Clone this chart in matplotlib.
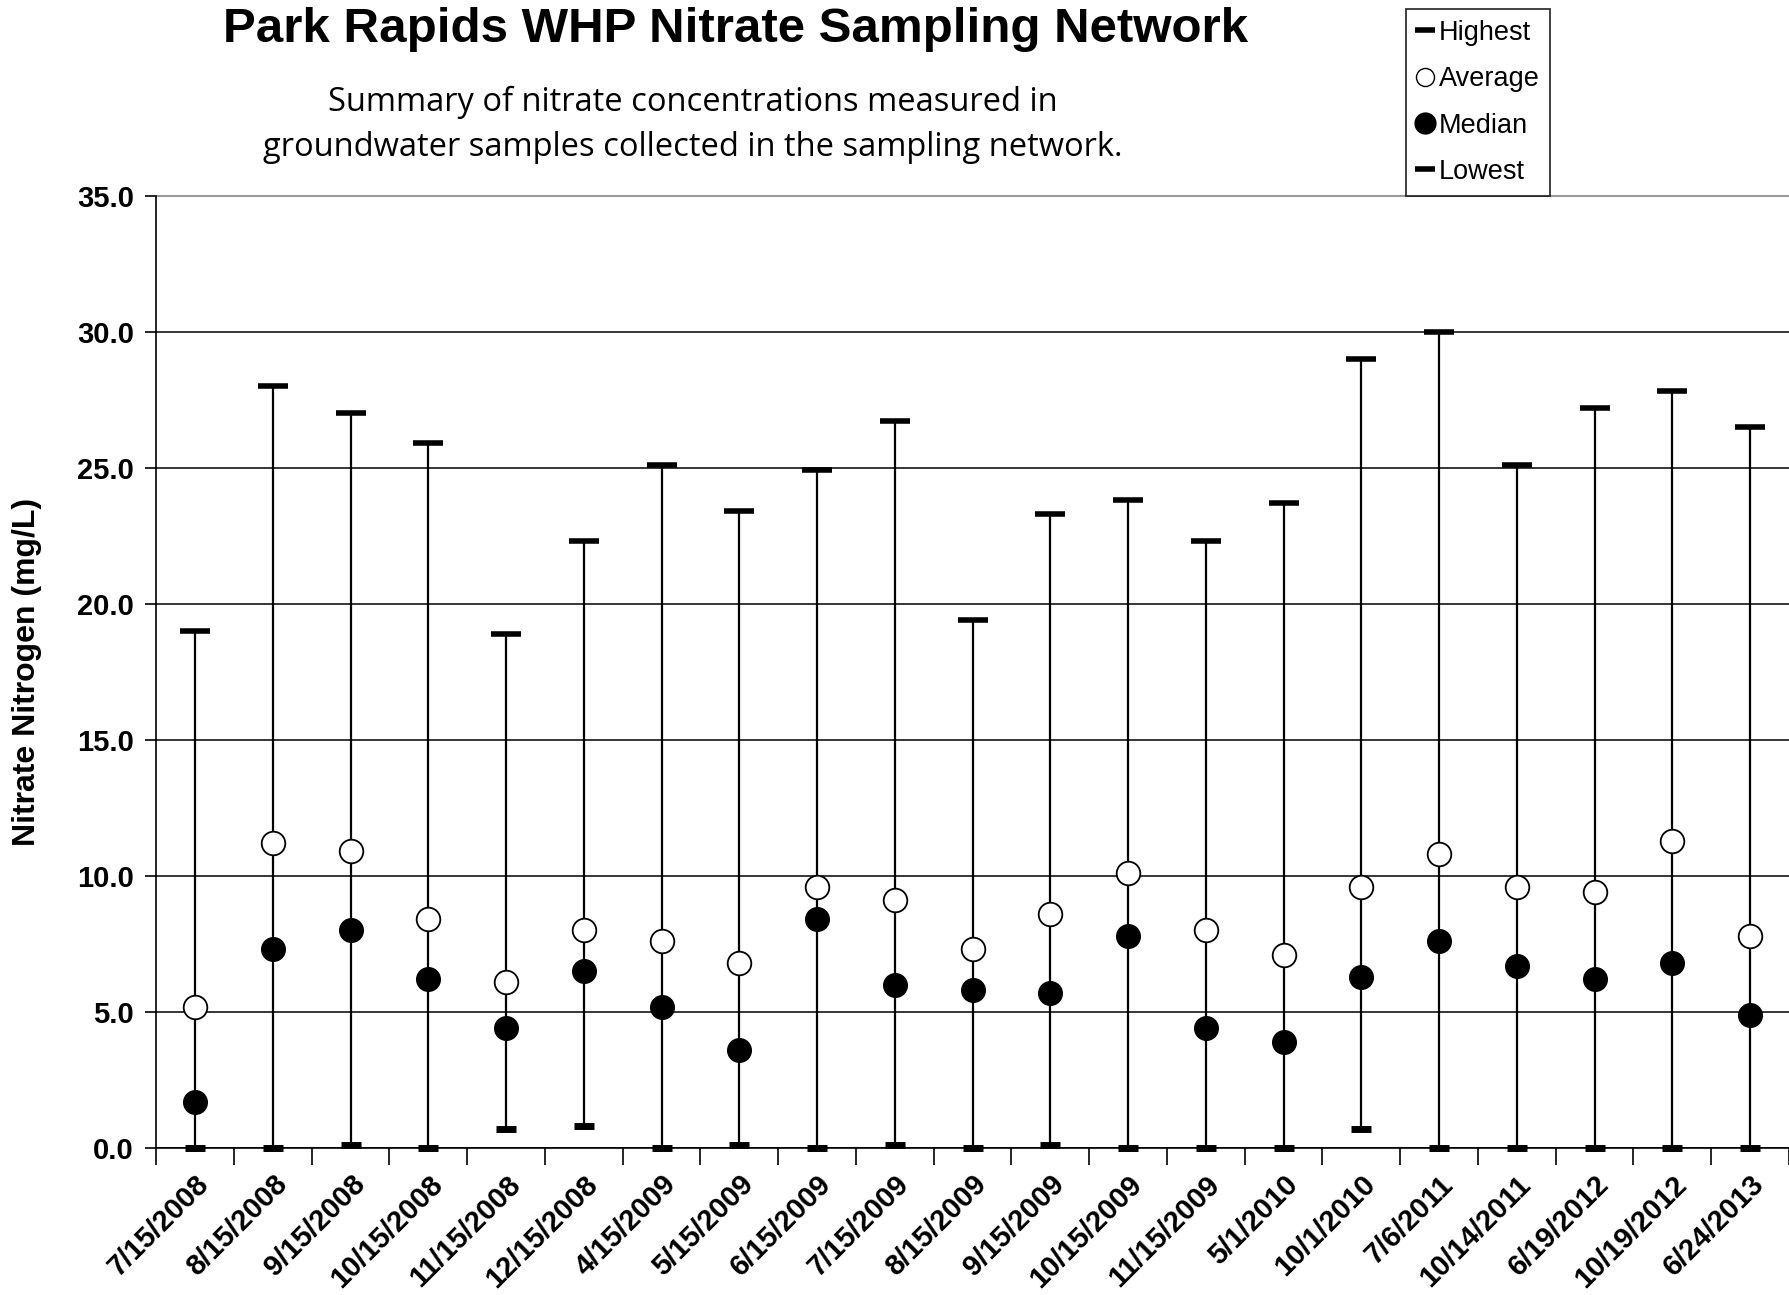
import numpy as np
import matplotlib
matplotlib.use("Agg")
import matplotlib.pyplot as plt
from matplotlib.lines import Line2D

# -------------------------------
# DATA
# -------------------------------
dates = ["7/15/2008", "8/15/2008", "9/15/2008", "10/15/2008", "11/15/2008",
         "12/15/2008", "4/15/2009", "5/15/2009", "6/15/2009", "7/15/2009",
         "8/15/2009", "9/15/2009", "10/15/2009", "11/15/2009", "5/1/2010",
         "10/1/2010", "7/6/2011", "10/14/2011", "6/19/2012", "10/19/2012",
         "6/24/2013"]

highest = [19.0, 28.0, 27.0, 25.9, 18.9, 22.3, 25.1, 23.4, 24.9, 26.7,
           19.4, 23.3, 23.8, 22.3, 23.7, 29.0, 30.0, 25.1, 27.2, 27.8, 26.5]
average = [5.2, 11.2, 10.9, 8.4, 6.1, 8.0, 7.6, 6.8, 9.6, 9.1,
           7.3, 8.6, 10.1, 8.0, 7.1, 9.6, 10.8, 9.6, 9.4, 11.3, 7.8]
median = [1.7, 7.3, 8.0, 6.2, 4.4, 6.5, 5.2, 3.6, 8.4, 6.0,
          5.8, 5.7, 7.8, 4.4, 3.9, 6.3, 7.6, 6.7, 6.2, 6.8, 4.9]
lowest = [0.0, 0.0, 0.1, 0.0, 0.7, 0.8, 0.0, 0.1, 0.0, 0.1,
          0.0, 0.1, 0.0, 0.0, 0.0, 0.7, 0.0, 0.0, 0.0, 0.0, 0.0]

# -------------------------------
# SETUP FIGURE
# -------------------------------
plt.rcParams["font.family"] = ["Liberation Sans", "DejaVu Sans"]

fig = plt.figure(figsize=(17.89, 12.95), dpi=100)
ax = fig.add_axes([0.0873, 0.1135, 0.9127, 0.7355])

x = np.arange(len(dates))

# range lines
ax.vlines(x, lowest, highest, color="black", linewidth=1.6, zorder=3)

# caps
ax.plot(x, highest, linestyle="", marker="_", markersize=21,
        markeredgewidth=4.0, color="black", zorder=4, clip_on=False)
ax.plot(x, lowest, linestyle="", marker="_", markersize=14,
        markeredgewidth=5.0, color="black", zorder=4, clip_on=False)

# average / median
ax.plot(x, average, linestyle="", marker="o", markersize=17,
        markerfacecolor="white", markeredgecolor="black",
        markeredgewidth=1.3, zorder=5)
ax.plot(x, median, linestyle="", marker="o", markersize=17,
        markerfacecolor="black", markeredgecolor="black", zorder=5)

# -------------------------------
# AXES
# -------------------------------
ax.set_xlim(-0.5, len(dates) - 0.53)
ax.set_ylim(0, 35)
ticks = np.arange(0, 35.1, 5)
ax.set_yticks(ticks)
ax.set_yticklabels([f"{v:.1f}" for v in ticks], fontsize=21, fontweight="bold")
ax.yaxis.grid(True, color="black", linewidth=1.1)
ax.set_axisbelow(True)

ax.set_xticks(np.arange(-0.5, len(dates), 1.0))
ax.set_xticklabels([])
ax.set_xticks(x, minor=True)
ax.set_xticklabels(dates, minor=True, rotation=45, ha="right",
                   rotation_mode="anchor", fontsize=21, fontweight="bold")
ax.tick_params(axis="x", which="minor", length=0, pad=16)
ax.tick_params(axis="x", which="major", length=12, width=1.2, direction="out")
ax.tick_params(axis="y", length=8, width=1.2, direction="out", pad=8)

for side in ["top", "right"]:
    ax.spines[side].set_visible(False)
ax.spines["left"].set_linewidth(1.2)
ax.spines["bottom"].set_linewidth(1.2)

# gray top line at 35
ax.axhline(35, color="#999999", linewidth=1.5, clip_on=False)

ax.set_ylabel("Nitrate Nitrogen (mg/L)", fontsize=23, fontweight="bold")
ax.yaxis.set_label_coords(-0.07, 0.5)

# -------------------------------
# TITLES
# -------------------------------
fig.text(0.411, 0.977, "Park Rapids WHP Nitrate Sampling Network",
         ha="center", va="center", fontsize=35.5, fontweight="bold")
fig.text(0.387, 0.921, "Summary of nitrate concentrations measured in",
         ha="center", va="center", fontsize=23.5, family=["Open Sans"])
fig.text(0.387, 0.886, "groundwater samples collected in the sampling network.",
         ha="center", va="center", fontsize=23.5, family=["Open Sans"])

# -------------------------------
# LEGEND
# -------------------------------
handles = [
    Line2D([], [], linestyle="", marker="_", markersize=15,
           markeredgewidth=4.0, color="black"),
    Line2D([], [], linestyle="", marker="o", markersize=13,
           markerfacecolor="white", markeredgecolor="black"),
    Line2D([], [], linestyle="", marker="o", markersize=15,
           markerfacecolor="black", markeredgecolor="black"),
    Line2D([], [], linestyle="", marker="_", markersize=15,
           markeredgewidth=4.0, color="black"),
]
leg = fig.legend(handles, ["Highest", "Average", "Median", "Lowest"],
                 loc="upper left", bbox_to_anchor=(0.786, 0.993),
                 fontsize=19.5, frameon=True, fancybox=False,
                 handlelength=0.6, handletextpad=0.2, labelspacing=0.75,
                 borderpad=0.4, borderaxespad=0)
leg.get_frame().set_edgecolor("black")
leg.get_frame().set_linewidth(1.3)

fig.savefig("out.png", dpi=100)
